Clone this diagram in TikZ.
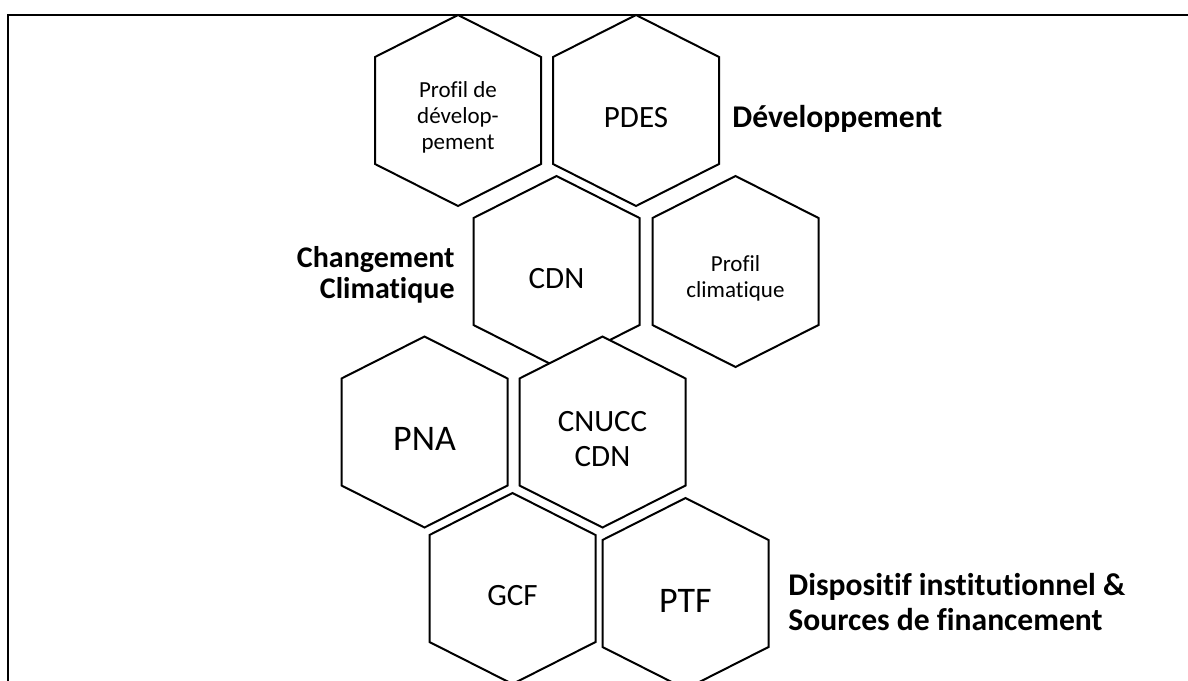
\documentclass[tikz,border=0pt]{standalone}
\usepackage{fontspec}
\setmainfont{Carlito}[Ligatures=NoCommon]
\begin{document}
\begin{tikzpicture}[x=0.5pt,y=-0.5pt,
    hexa/.pic={\draw[line width=1pt,fill=white] (0,-95.5) -- (83,-53.5) -- (83,53.5) -- (0,95.5) -- (-83,53.5) -- (-83,-53.5) -- cycle;},
    hexlabel/.style={align=center,inner sep=0pt,yshift=-3.5pt},
    theme/.style={inner sep=0pt,font=\bfseries}]
    \useasboundingbox (0,0) rectangle (1188,680);
    \clip (0,0) rectangle (1188,680);
    \draw[line width=1pt] (7.5,700) -- (7.5,15) -- (1200,15);
    \pic at (458,110.5) {hexa};
    \node[hexlabel,font=\fontsize{11.5}{13}\selectfont] (devprof) at (458,110.5) {Profil de\\dévelop-\\pement};
    \pic at (636,110.5) {hexa};
    \node[hexlabel,font=\fontsize{15.5}{17.5}\selectfont] (pdes) at (636,110.5) {PDES};
    \pic at (556.5,271.5) {hexa};
    \node[hexlabel,font=\fontsize{15.5}{17.5}\selectfont] (cdn) at (556.5,271.5) {CDN};
    \pic at (735.5,271.5) {hexa};
    \node[hexlabel,font=\fontsize{11.5}{13.3}\selectfont] (climprof) at (735.5,271.5) {Profil\\climatique};
    \pic at (424.5,432) {hexa};
    \node[hexlabel,font=\fontsize{18}{20}\selectfont] (pna) at (424.5,432) {PNA};
    \pic at (602.5,432) {hexa};
    \node[hexlabel,font=\fontsize{15.5}{17.5}\selectfont] (cnucc) at (602.5,432) {CNUCC\\CDN};
    \pic at (512.5,588.5) {hexa};
    \node[hexlabel,font=\fontsize{15.5}{17.5}\selectfont] (gcf) at (512.5,588.5) {GCF};
    \pic at (685.5,593.5) {hexa};
    \node[hexlabel,font=\fontsize{18}{20}\selectfont] (ptf) at (685.5,593.5) {PTF};
    \node[theme,anchor=base west,font=\fontsize{15.8}{17.5}\selectfont\bfseries] (dev) at (732,127) {Développement};
    \node[theme,anchor=base east,align=right,font=\fontsize{15}{15.5}\selectfont\bfseries] (climat) at (455,298) {Changement\\Climatique};
    \node[theme,anchor=base west,align=left,font=\fontsize{15.8}{17.5}\selectfont\bfseries] (finance) at (788,630) {Dispositif institutionnel \&\\Sources de financement};
\end{tikzpicture}
\end{document}
